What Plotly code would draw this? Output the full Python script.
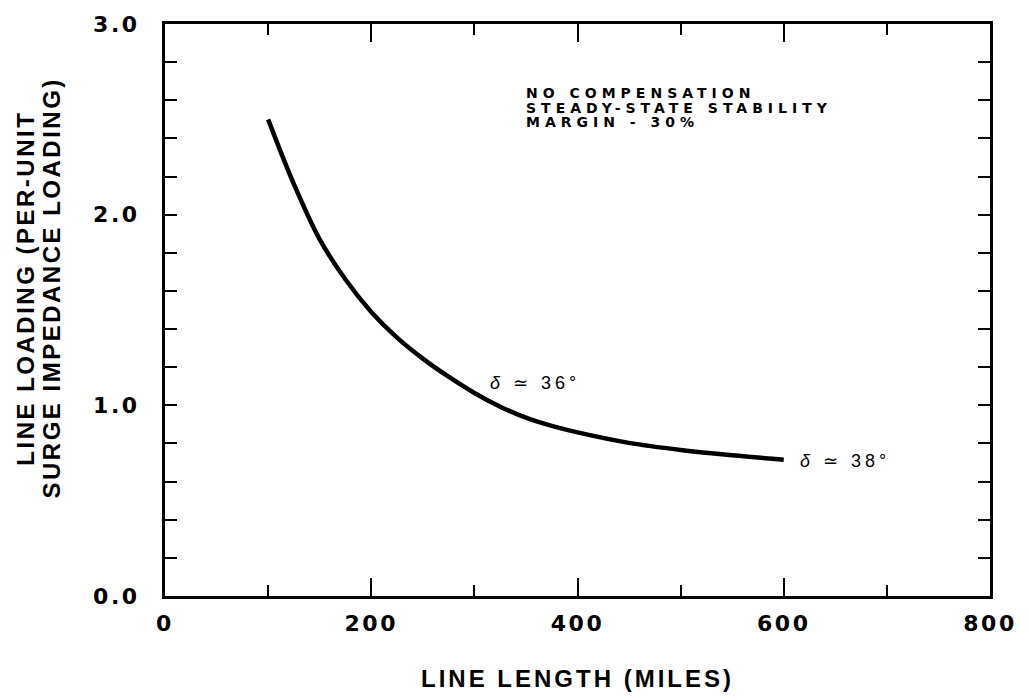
import plotly.graph_objects as go

# Data
line_length_miles = [100, 125, 150, 175, 200, 225, 250, 275, 300, 325, 350, 375, 400, 450, 500, 550, 600]
line_loading_pu = [2.50, 2.16, 1.87, 1.66, 1.49, 1.355, 1.245, 1.15, 1.065, 0.993, 0.935, 0.892, 0.858, 0.803, 0.766, 0.738, 0.715]

x_tick_vals = [0, 200, 400, 600, 800]
x_tick_labels = ["0", "200", "400", "600", "800"]
y_tick_vals = [0, 1, 2, 3]
y_tick_labels = ["0.0", "1.0", "2.0", "3.0"]

note_lines = ["NO COMPENSATION", "STEADY-STATE STABILITY", "MARGIN - 30%"]
note_y = [2.64, 2.562, 2.485]
delta_labels = ["<i>δ</i> ≃ 36°", "<i>δ</i> ≃ 38°"]
delta_x = [313, 614]
delta_y = [1.115, 0.71]

x_title = "LINE LENGTH (MILES)"
y_title_lines = ["LINE LOADING (PER-UNIT", "SURGE IMPEDANCE LOADING)"]


def spaced(text, px):
    return f"<span style='letter-spacing:{px}px'>{text}</span>"


fig = go.Figure()
fig.add_trace(go.Scatter(
    x=line_length_miles, y=line_loading_pu, mode="lines",
    line=dict(color="black", width=4.5, shape="spline", smoothing=1.0),
    showlegend=False, hoverinfo="skip",
))

tick_font = dict(family="DejaVu Sans", size=22, color="black", weight="bold")

fig.update_xaxes(
    range=[0, 800], showgrid=False, zeroline=False,
    showline=True, linewidth=3, linecolor="black", mirror="ticks",
    ticks="inside", ticklen=18, tickwidth=1.5, tickcolor="black",
    tickmode="array", tickvals=x_tick_vals,
    ticktext=[spaced(t, 2.5) for t in x_tick_labels],
    tickfont=tick_font, ticklabelstandoff=6,
    minor=dict(tick0=0, dtick=100, ticks="inside", ticklen=11, tickwidth=1.5,
               tickcolor="black", showgrid=False),
)
fig.update_yaxes(
    range=[0, 3], showgrid=False, zeroline=False,
    showline=True, linewidth=3, linecolor="black", mirror="ticks",
    ticks="inside", ticklen=12, tickwidth=1.5, tickcolor="black",
    tickmode="array", tickvals=y_tick_vals,
    ticktext=[spaced(t, 2.5) for t in y_tick_labels],
    tickfont=tick_font, ticklabelstandoff=18,
    minor=dict(tick0=0, dtick=0.2, ticks="inside", ticklen=12, tickwidth=1.5,
               tickcolor="black", showgrid=False),
)

title_font = dict(family="Liberation Sans, Arial", size=24, color="black", weight="bold")
annotations = [
    dict(text=spaced(x_title, 3), xref="paper", yref="paper", x=0.5, y=-0.1434,
         xanchor="center", yanchor="middle", showarrow=False, font=title_font),
    dict(text=spaced(y_title_lines[0], 2.5), xref="paper", yref="paper", x=-0.1685, y=0.539,
         xanchor="center", yanchor="middle", textangle=-90, showarrow=False, font=title_font),
    dict(text=spaced(y_title_lines[1], 2.5), xref="paper", yref="paper", x=-0.1372, y=0.539,
         xanchor="center", yanchor="middle", textangle=-90, showarrow=False, font=title_font),
]
note_font = dict(family="DejaVu Sans", size=14, color="black", weight="bold")
for txt, yy in zip(note_lines, note_y):
    annotations.append(dict(text=spaced(txt, 5), x=348, y=yy, xref="x", yref="y",
                            xanchor="left", yanchor="middle", showarrow=False, font=note_font))
delta_font = dict(family="Liberation Sans, Arial", size=18, color="black")
for txt, xx, yy in zip(delta_labels, delta_x, delta_y):
    annotations.append(dict(text=spaced(txt, 4), x=xx, y=yy, xref="x", yref="y",
                            xanchor="left", yanchor="middle", showarrow=False, font=delta_font))

fig.update_layout(
    width=1029, height=696,
    margin=dict(l=165, r=33, t=17, b=100),
    paper_bgcolor="white", plot_bgcolor="white",
    annotations=annotations,
)

fig.write_html("out.html")
